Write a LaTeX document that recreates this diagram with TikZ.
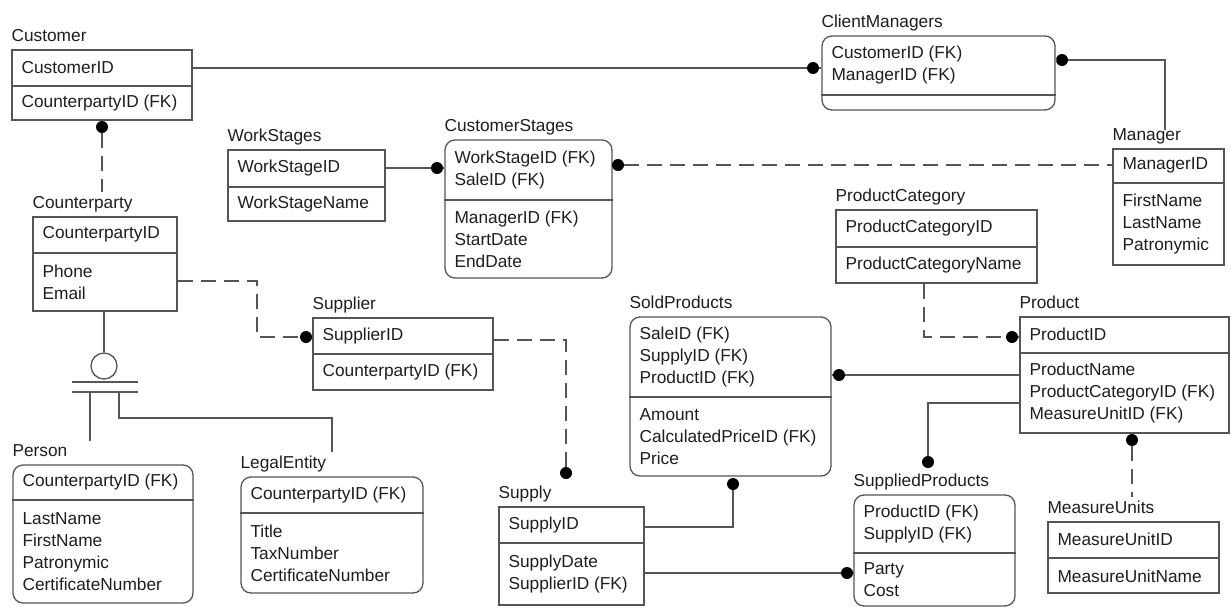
\documentclass[tikz,border=0pt]{standalone}
\usepackage{fontspec}
\setmainfont{Liberation Sans}
\usetikzlibrary{fit,calc}
\definecolor{lc}{HTML}{555555}
\definecolor{tc}{HTML}{1E1E1E}
\tikzset{
 ln/.style={draw=lc, line width=1.3pt},
 dsh/.style={ln, dash pattern=on 15pt off 8pt},
 erb/.style={ln, inner sep=0pt, rectangle},
 rnd/.style={rounded corners=10pt},
 ttl/.style={anchor=base west, inner sep=0pt, text=tc, font=\fontsize{17.3}{22}\selectfont},
 txt/.style={anchor=west, align=left, inner sep=0pt, text=tc, font=\fontsize{17.3}{22}\selectfont},
 dot/.style={circle, fill=black, inner sep=0pt, minimum size=12pt},
}
% #1 style, #2 name, #3 nw corner, #4 se corner, #5 divider y, #6 title, #7 keys, #8 attributes
\newcommand{\erbox}[8][]{%
  \path #3 coordinate (#2-nw) #4 coordinate (#2-se);
  \node[erb,#1,fit=(#2-nw)(#2-se)] (#2) {};
  \draw[ln] (#2.west |- 0,#5) -- (#2.east |- 0,#5);
  \node[ttl] (#2-t) at ($(#2.north west)+(0,-7.5)$) {#6};
  \node[txt] (#2-k) at ($(#2.north west)!0.5!(#2.west |- 0,#5)+(10,0)$) {#7};
  \node[txt] (#2-a) at ($(#2.south west)!0.5!(#2.west |- 0,#5)+(10,0)$) {#8};
}
\begin{document}
\begin{tikzpicture}[x=1pt,y=-1pt]
\useasboundingbox[fill=white] (0,0) rectangle (1231,608);

\erbox{cust}{(12,50)}{(192,120)}{86}{Customer}{CustomerID}{CounterpartyID (FK)}
\erbox[rnd]{cm}{(822,36)}{(1055,110)}{95}{ClientManagers}{CustomerID (FK)\\ManagerID (FK)}{}
\erbox{ws}{(228,150)}{(385,221)}{187}{WorkStages}{WorkStageID}{WorkStageName}
\erbox[rnd]{cs}{(445,140)}{(612,278)}{200}{CustomerStages}{WorkStageID (FK)\\SaleID (FK)}{ManagerID (FK)\\StartDate\\EndDate}
\erbox{mgr}{(1113,149)}{(1224,265)}{183}{Manager}{ManagerID}{FirstName\\LastName\\Patronymic}
\erbox{pc}{(836,210)}{(1037,283)}{247}{ProductCategory}{ProductCategoryID}{ProductCategoryName}
\erbox{cp}{(33,217)}{(177,311)}{253}{Counterparty}{CounterpartyID}{Phone\\Email}
\erbox{sup}{(313,318)}{(493,390)}{354}{Supplier}{SupplierID}{CounterpartyID (FK)}
\erbox[rnd]{sold}{(630,317)}{(831,476)}{397}{SoldProducts}{SaleID (FK)\\SupplyID (FK)\\ProductID (FK)}{Amount\\CalculatedPriceID (FK)\\Price}
\erbox{prod}{(1020,317)}{(1229,433)}{353}{Product}{ProductID}{ProductName\\ProductCategoryID (FK)\\MeasureUnitID (FK)}
\erbox[rnd]{per}{(13,465)}{(193,603)}{500}{Person}{CounterpartyID (FK)}{LastName\\FirstName\\Patronymic\\CertificateNumber}
\erbox[rnd]{le}{(241,477)}{(423,593)}{513}{LegalEntity}{CounterpartyID (FK)}{Title\\TaxNumber\\CertificateNumber}
\erbox{supply}{(499,507)}{(644,605)}{543}{Supply}{SupplyID}{SupplyDate\\SupplierID (FK)}
\erbox[rnd]{sp}{(854,495)}{(1015,606)}{553}{SuppliedProducts}{ProductID (FK)\\SupplyID (FK)}{Party\\Cost}
\erbox{mu}{(1048,522)}{(1219,593)}{558}{MeasureUnits}{MeasureUnitID}{MeasureUnitName}

% dots
\node[dot] (d1) at (813,68) {};
\node[dot] (d2) at (1062,60) {};
\node[dot] (d3) at (102,127) {};
\node[dot] (d4) at (437,168) {};
\node[dot] (d5) at (618,165) {};
\node[dot] (d6) at (306,337) {};
\node[dot] (d8) at (566,473) {};
\node[dot] (d9) at (733,484) {};
\node[dot] (d10) at (847,573) {};
\node[dot] (d11) at (839,375) {};
\node[dot] (d12) at (928,462) {};
\node[dot] (d13) at (1012,337) {};
\node[dot] (d14) at (1132,440) {};
\coordinate (m2) at (1165,130);

% connectors
\draw[ln] (cust.east |- d1) -- (d1) -- (cm.west |- d1);
\draw[ln] (cm.east |- d2) -- (d2) -| (m2);
\draw[dsh] (d3) -- ([yshift=5pt]d3 |- cp-t.north);
\draw[ln] (ws.east |- d4) -- (d4) -- (cs.west |- d4);
\draw[dsh] (d5) -- (mgr.west |- d5);
\draw[dsh] (cp.east |- 0,281) -| (257,337) -- (d6);
\draw[ln] (d6) -- (sup.west |- d6);
\draw[dsh] (sup.east |- 0,340) -| (d8);
\draw[ln] (d9) |- (supply.east |- 0,527);
\draw[ln] (supply.east |- d10) -- (d10) -- (sp.west |- d10);
\draw[ln] (prod.west |- d11) -- (d11) -- (sold.east |- d11);
\draw[ln] (prod.west |- 0,403) -| (d12);
\draw[dsh] (pc.south -| 924,0) |- (d13);
\draw[ln] (d13) -- (prod.west |- d13);
\draw[dsh] (d14) -- ([yshift=4pt]d14 |- mu-t.north);

% inheritance (category) symbol
\node[circle, ln, minimum size=26pt, inner sep=0pt] (isa) at (104,366) {};
\draw[ln] (cp.south -| isa) -- (isa.north);
\coordinate (b1l) at (72,382); \coordinate (b1r) at (138,382);
\coordinate (b2l) at (72,392); \coordinate (b2r) at (138,392);
\draw[ln] (b1l) -- (b1r);
\draw[ln] (b2l) -- (b2r);
\coordinate (i1) at (90,392);
\coordinate (i2) at (119,392);
\coordinate (i3) at (332,418);
\draw[ln] (i1) -- ([yshift=4pt]i1 |- per-t.north);
\draw[ln] (i2) |- (i3) -- ([yshift=4pt]i3 |- le-t.north);
\end{tikzpicture}
\end{document}
